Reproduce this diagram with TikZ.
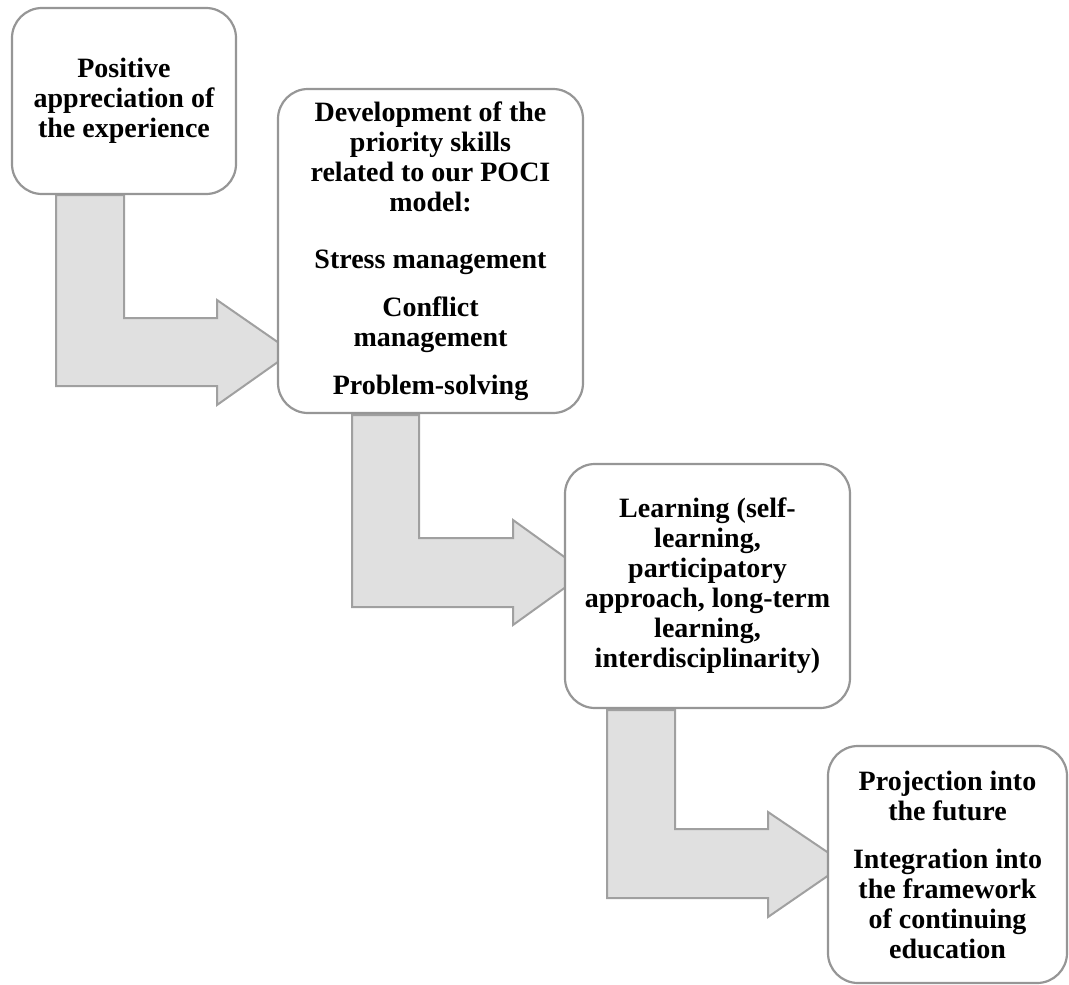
\documentclass[tikz,border=0pt]{standalone}
\usepackage{fontspec}
\setmainfont{Liberation Serif}
\definecolor{boxgray}{RGB}{150,150,150}
\definecolor{arrowgray}{RGB}{160,160,160}
\definecolor{arrowfill}{RGB}{224,224,224}
\tikzset{
  box/.style={draw=boxgray, line width=2.2pt, rounded corners=30pt, fill=white,
    align=center, inner sep=0pt,
    font=\fontsize{28}{30}\selectfont\bfseries},
  bentarrow/.style={draw=arrowgray, fill=arrowfill, line width=2pt, line join=miter}
}
\begin{document}
\begin{tikzpicture}[x=1pt,y=-1pt]
\useasboundingbox (0,0) rectangle (1069,985);
% bent arrows (drawn first, boxes cover their tips)
\draw[bentarrow] (56,195) -- (124,195) -- (124,318) -- (217,318) -- (217,300)
  -- (292,352) -- (217,405) -- (217,386) -- (56,386) -- cycle;
\draw[bentarrow] (352,415) -- (419,415) -- (419,538) -- (513,538) -- (513,520)
  -- (586,572.5) -- (513,625) -- (513,607) -- (352,607) -- cycle;
\draw[bentarrow] (607,710) -- (675,710) -- (675,829) -- (768,829) -- (768,812)
  -- (845,864) -- (768,917) -- (768,898) -- (607,898) -- cycle;
% boxes
\node[box, minimum width=224pt, minimum height=186pt] (b1) at (124,101)
  {Positive\\appreciation of\\the experience};
\node[box, minimum width=305pt, minimum height=324pt] (b2) at (430.5,251)
  {Development of the\\priority skills\\related to our POCI\\model:\\[27pt]Stress management\\[18pt]Conflict\\management\\[18pt]Problem-solving};
\node[box, minimum width=285pt, minimum height=244pt] (b3) at (707.5,586)
  {Learning (self-\\learning,\\participatory\\approach, long-term\\learning,\\interdisciplinarity)};
\node[box, minimum width=239pt, minimum height=237pt] (b4) at (947.5,864.5)
  {Projection into\\the future\\[18pt]Integration into\\the framework\\of continuing\\education};
\end{tikzpicture}
\end{document}
